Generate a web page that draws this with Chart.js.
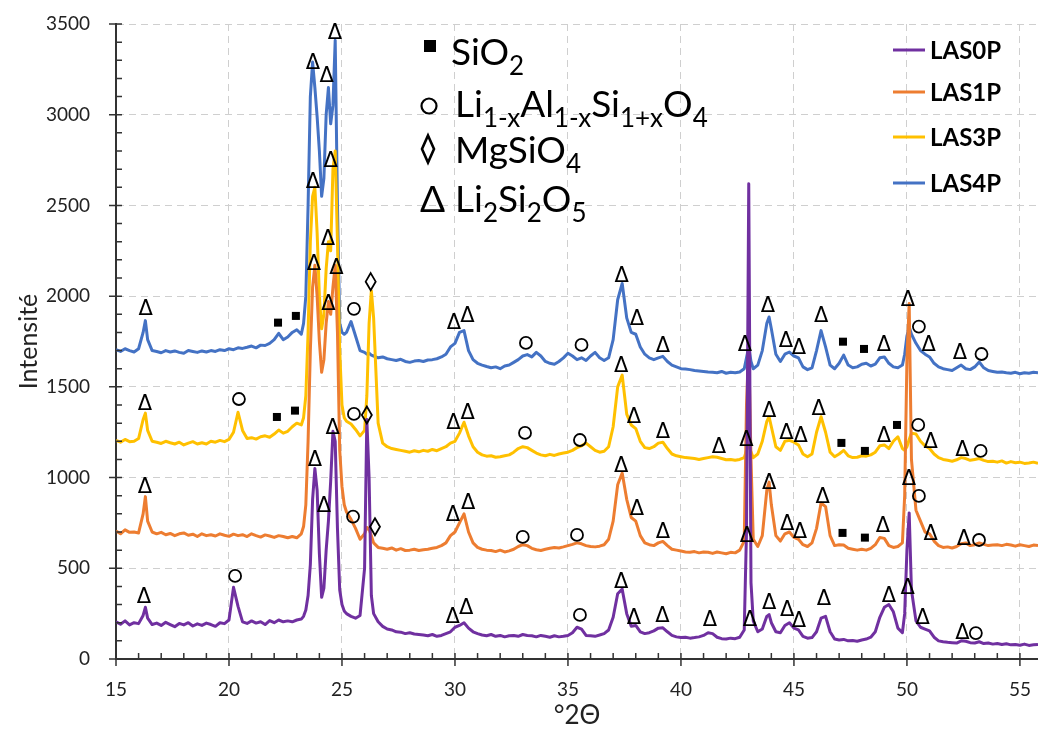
<!DOCTYPE html>
<html>
<head>
<meta charset="utf-8">
<script src="https://cdn.jsdelivr.net/npm/chart.js@4.4.1/dist/chart.umd.min.js"></script>
<style>
  html, body { margin: 0; padding: 0; background: #fff; }
</style>
</head>
<body>
<canvas id="myChart" width="1038" height="729"></canvas>
<script>
// diffraction angle (°2Θ), shared by the four patterns
var twoTheta = [
  15.0, 15.2, 15.4, 15.6, 15.8, 16.0, 16.2, 16.3, 16.4, 16.6,
  16.8, 17.0, 17.2, 17.4, 17.6, 17.8, 18.0, 18.2, 18.4, 18.6,
  18.8, 19.0, 19.2, 19.4, 19.6, 19.8, 20.0, 20.2, 20.4, 20.6,
  20.8, 21.0, 21.2, 21.4, 21.6, 21.8, 22.0, 22.2, 22.4, 22.6,
  22.8, 23.0, 23.2, 23.3, 23.4, 23.5, 23.6, 23.7, 23.8, 23.9,
  24.0, 24.1, 24.2, 24.3, 24.4, 24.5, 24.6, 24.7, 24.8, 24.9,
  25.0, 25.1, 25.2, 25.4, 25.6, 25.8, 26.0, 26.1, 26.2, 26.3,
  26.4, 26.6, 26.8, 27.0, 27.2, 27.4, 27.6, 27.8, 28.0, 28.2,
  28.4, 28.6, 28.8, 29.0, 29.2, 29.4, 29.6, 29.8, 30.0, 30.2,
  30.4, 30.6, 30.8, 31.0, 31.2, 31.4, 31.6, 31.8, 32.0, 32.2,
  32.4, 32.6, 32.8, 33.0, 33.2, 33.4, 33.6, 33.8, 34.0, 34.2,
  34.4, 34.6, 34.8, 35.0, 35.2, 35.4, 35.6, 35.8, 36.0, 36.2,
  36.4, 36.6, 36.8, 37.0, 37.2, 37.4, 37.6, 37.8, 38.0, 38.2,
  38.4, 38.6, 38.8, 39.0, 39.2, 39.4, 39.6, 39.8, 40.0, 40.2,
  40.4, 40.6, 40.8, 41.0, 41.2, 41.4, 41.6, 41.8, 42.0, 42.2,
  42.4, 42.6, 42.8, 42.9, 43.0, 43.1, 43.2, 43.4, 43.6, 43.8,
  43.9, 44.0, 44.2, 44.4, 44.6, 44.8, 45.0, 45.2, 45.4, 45.6,
  45.8, 46.0, 46.2, 46.4, 46.6, 46.8, 47.0, 47.2, 47.4, 47.6,
  47.8, 48.0, 48.2, 48.4, 48.6, 48.8, 49.0, 49.2, 49.4, 49.6,
  49.8, 49.9, 50.0, 50.1, 50.2, 50.4, 50.6, 50.8, 51.0, 51.2,
  51.4, 51.6, 51.8, 52.0, 52.2, 52.4, 52.6, 52.8, 53.0, 53.2,
  53.4, 53.6, 53.8, 54.0, 54.2, 54.4, 54.6, 54.8, 55.0, 55.2,
  55.4, 55.6, 55.8
];

var las0p = [
  205, 192, 210, 188, 200, 195, 240, 285, 225, 190,
  198, 185, 202, 190, 178, 196, 188, 200, 182, 194,
  185, 198, 190, 180, 200, 195, 215, 395, 290, 205,
  196, 210, 198, 205, 190, 212, 200, 215, 205, 210,
  205, 215, 220, 235, 270, 350, 520, 880, 1050, 930,
  580, 340, 390, 600, 760, 980, 1255, 1200, 720, 380,
  300, 265, 250, 235, 225, 240, 500, 1320, 1000, 350,
  250, 205, 180, 165, 160, 150, 148, 140, 145, 138,
  135, 132, 128, 135, 125, 130, 140, 150, 175, 185,
  200, 170, 150, 140, 132, 128, 135, 125, 130, 122,
  128, 130, 125, 135, 130, 128, 122, 130, 125, 120,
  128, 122, 125, 130, 145, 175, 165, 130, 128, 125,
  132, 140, 160, 230, 360, 385, 250, 180, 185, 150,
  140, 145, 155, 170, 172, 150, 130, 122, 118, 120,
  115, 118, 122, 130, 145, 140, 120, 112, 110, 115,
  112, 120, 160, 700, 2620, 420, 210, 150, 165, 235,
  245, 200, 150, 145, 185, 200, 170, 160, 125, 115,
  118, 150, 225, 235, 150, 110, 105, 108, 100, 102,
  98, 105, 110, 120, 150, 230, 285, 300, 260, 170,
  145, 250, 600, 805, 380, 210, 175, 165, 155, 120,
  100, 95, 92, 90, 88, 100, 98, 90, 88, 95,
  85, 88, 82, 85, 80, 84, 78, 80, 76, 82,
  75, 78, 80
];

var las1p = [
  705, 690, 712, 698, 700, 695, 800, 895, 760, 700,
  690, 698, 685, 692, 680, 690, 695, 682, 688, 675,
  690, 680, 685, 678, 690, 682, 676, 688, 680, 685,
  675, 690, 680, 672, 684, 678, 670, 680, 675, 668,
  675, 668, 690, 730, 850, 1200, 1700, 2050, 2170, 2000,
  1750, 1580, 1650, 1850, 1970, 1900, 2050, 2170, 1800, 1150,
  950, 850, 810, 770, 720, 660, 690, 725, 715, 680,
  640, 615, 610, 605, 612, 600, 608, 598, 600, 605,
  598, 602, 605, 610, 615, 625, 640, 680, 700, 750,
  800, 700, 640, 615, 605, 600, 598, 592, 600, 590,
  596, 605, 620, 630, 625, 610, 602, 598, 605, 610,
  615, 612, 618, 625, 632, 640, 635, 625, 620, 618,
  622, 630, 660, 760, 960, 1025, 880, 780, 760, 680,
  640, 630, 625, 640, 648, 625, 605, 600, 595, 590,
  588, 592, 585, 590, 588, 582, 590, 585, 580, 588,
  585, 600, 650, 1400, 1720, 1100, 660, 620, 680, 930,
  975, 850, 680, 650, 690, 700, 670, 660, 630, 620,
  640, 720, 860, 840, 680, 625, 630, 628, 610, 605,
  600, 605, 600, 610, 630, 670, 665, 625, 615, 620,
  640, 900, 1650, 1960, 1100, 820, 760, 700, 690, 650,
  625, 615, 618, 612, 620, 635, 640, 625, 630, 640,
  632, 625, 628, 630, 625, 632, 628, 622, 630, 625,
  620, 628, 625
];

var las3p = [
  1205, 1195, 1210, 1198, 1200, 1215, 1320, 1355, 1260, 1200,
  1195, 1188, 1200, 1192, 1185, 1195, 1180, 1190, 1198, 1185,
  1192, 1185, 1200, 1195, 1205, 1198, 1210, 1250, 1360, 1260,
  1215, 1220, 1212, 1225, 1230, 1222, 1240, 1262, 1245, 1255,
  1280, 1300, 1290, 1330, 1450, 1800, 2300, 2550, 2600, 2350,
  2000, 1820, 1900, 2150, 2300, 2250, 2700, 2800, 2300, 1700,
  1400, 1330, 1310, 1295, 1265, 1230, 1260, 1450, 1850, 2030,
  1880, 1300, 1190, 1170, 1160, 1155, 1150, 1145, 1140, 1148,
  1142, 1150, 1145, 1155, 1148, 1160, 1170, 1190, 1200, 1245,
  1305, 1230, 1170, 1140, 1125, 1118, 1120, 1112, 1115, 1120,
  1125, 1140, 1160, 1170, 1165, 1150, 1135, 1125, 1120, 1128,
  1122, 1130, 1135, 1140, 1150, 1165, 1175, 1190, 1170, 1150,
  1140, 1145, 1170, 1280, 1500, 1565, 1350, 1290, 1270, 1200,
  1165, 1160, 1170, 1190, 1195, 1160, 1130, 1120, 1115, 1110,
  1108, 1105, 1100, 1105, 1110, 1115, 1112, 1105, 1098, 1100,
  1095, 1100, 1110, 1150, 1185, 1140, 1110, 1130, 1200, 1310,
  1335, 1280, 1170, 1150, 1200, 1205, 1195, 1180, 1130, 1115,
  1130, 1250, 1335, 1250, 1140, 1115, 1130, 1150, 1120, 1110,
  1112, 1120, 1118, 1125, 1140, 1175, 1180, 1160, 1200, 1225,
  1160, 1150, 1170, 1210, 1245, 1240, 1200, 1175, 1160, 1130,
  1110, 1100, 1095, 1090, 1098, 1110, 1105, 1095, 1100, 1105,
  1095, 1088, 1090, 1085, 1092, 1080, 1088, 1082, 1085, 1078,
  1080, 1085, 1078
];

var las4p = [
  1705, 1695, 1710, 1700, 1692, 1710, 1800, 1865, 1760, 1700,
  1695, 1688, 1700, 1692, 1698, 1690, 1685, 1700, 1695, 1690,
  1698, 1692, 1700, 1695, 1705, 1700, 1710, 1705, 1715, 1712,
  1718, 1725, 1715, 1730, 1728, 1740, 1760, 1795, 1760, 1775,
  1800, 1815, 1790, 1850, 2000, 2500, 3100, 3290, 3150, 2990,
  2800, 2550, 2650, 3000, 3150, 2950, 3050, 3410, 2500, 1850,
  1800, 1790, 1800, 1860, 1780, 1700, 1690, 1680, 1685, 1675,
  1670, 1660, 1665, 1655, 1650, 1645, 1652, 1640, 1635, 1642,
  1645, 1640, 1648, 1650, 1655, 1665, 1680, 1720, 1740, 1800,
  1810, 1700, 1650, 1630, 1620, 1612, 1605, 1610, 1600, 1615,
  1620, 1635, 1650, 1670, 1678, 1665, 1690, 1670, 1640, 1630,
  1625, 1640, 1660, 1685, 1670, 1650, 1660, 1645, 1670, 1690,
  1660, 1645, 1660, 1760, 1980, 2070, 1880, 1800, 1790, 1720,
  1680, 1660, 1650, 1660, 1668, 1640, 1620, 1610, 1600, 1598,
  1595, 1590, 1588, 1585, 1582, 1580, 1578, 1585, 1575, 1580,
  1578, 1582, 1600, 1660, 1720, 1640, 1600, 1620, 1700, 1850,
  1885, 1820, 1680, 1640, 1680, 1692, 1670, 1660, 1610, 1595,
  1605, 1700, 1810, 1720, 1620, 1600, 1630, 1675, 1620, 1605,
  1610, 1625, 1630, 1615, 1625, 1660, 1665, 1630, 1610, 1605,
  1620, 1680, 1780, 1830, 1790, 1740, 1700, 1680, 1665, 1630,
  1610, 1600, 1595, 1590, 1605, 1620, 1600, 1595, 1610, 1637,
  1605, 1590, 1585, 1580, 1582, 1578, 1575, 1580, 1572, 1578,
  1575, 1580, 1578
];

var seriesNames = ['LAS0P', 'LAS1P', 'LAS3P', 'LAS4P'];
var seriesColors = ['#7030a0', '#ed7d31', '#ffc000', '#4472c4'];

// phase markers [°2Θ, intensity]
var li2si2o5Marks = [
  [16.31, 1935], [23.72, 3291], [24.32, 3220], [24.69, 3460], [29.95, 1862], [30.55, 1897],
  [37.38, 2117], [38.05, 1880], [39.2, 1735], [42.83, 1740], [43.85, 1952], [44.65, 1764],
  [45.22, 1722], [46.2, 1897], [48.98, 1737], [50.04, 1985], [50.96, 1737], [52.35, 1694],
  [16.28, 1413], [23.72, 2635], [24.5, 2751], [24.38, 2326], [29.93, 1308], [30.56, 1363],
  [37.35, 1621], [37.92, 1345], [39.2, 1262], [41.68, 1175], [42.9, 1218], [43.9, 1373],
  [44.67, 1253], [45.3, 1240], [46.1, 1384], [48.98, 1235], [51.05, 1203], [52.46, 1158],
  [16.28, 959], [23.76, 2188], [24.4, 1963], [24.76, 2165], [29.91, 805], [30.58, 866],
  [37.35, 1070], [38.05, 838], [39.2, 711], [42.92, 688], [43.9, 981], [44.7, 750],
  [45.27, 706], [46.27, 899], [48.94, 739], [50.09, 998], [51.05, 696], [52.52, 672],
  [16.24, 353], [23.8, 1108], [24.2, 854], [24.59, 1281], [29.9, 238], [30.5, 292],
  [37.35, 435], [37.92, 232], [39.18, 243], [41.28, 226], [43.05, 226], [43.9, 316],
  [44.7, 281], [45.22, 220], [46.33, 338], [49.2, 358], [50.03, 399], [50.7, 237],
  [52.46, 151]
];
var lialsio4Marks = [
  [25.53, 1930], [33.14, 1742], [35.6, 1731], [50.53, 1832], [53.3, 1681],
  [20.44, 1433], [25.53, 1351], [33.1, 1246], [35.53, 1207], [50.5, 1290], [53.26, 1147],
  [25.49, 785], [33.0, 673], [35.4, 684], [50.53, 899], [53.19, 656],
  [20.27, 458], [35.53, 243], [53.05, 143]
];
var sio2Marks = [
  [22.17, 1854], [22.96, 1891], [47.17, 1749], [48.1, 1709],
  [22.12, 1334], [22.92, 1369], [47.1, 1191], [48.14, 1147], [49.56, 1290],
  [47.15, 695], [48.14, 669]
];
var mgsio4Marks = [[26.27, 2080], [26.1, 1345], [26.46, 729]];

var FONT = 'Lato, "Open Sans", sans-serif';

function drawTri(ctx, x, y, size) {
  ctx.font = size + 'px "DejaVu Sans"';
  ctx.textAlign = 'center';
  ctx.textBaseline = 'alphabetic';
  ctx.fillText('\u0394', x, y + size * 0.36);
}
function drawCircle(ctx, x, y, r) {
  ctx.beginPath();
  ctx.arc(x, y, r, 0, Math.PI * 2);
  ctx.stroke();
}
function drawDiamond(ctx, x, y, w, h) {
  ctx.beginPath();
  ctx.moveTo(x, y - h / 2);
  ctx.lineTo(x + w / 2, y);
  ctx.lineTo(x, y + h / 2);
  ctx.lineTo(x - w / 2, y);
  ctx.closePath();
  ctx.stroke();
}

var phaseMarks = {
  id: 'phaseMarks',
  afterDatasetsDraw: function (chart) {
    var ctx = chart.ctx, xs = chart.scales.x, ys = chart.scales.y;
    var px = function (p) { return [xs.getPixelForValue(p[0]), ys.getPixelForValue(p[1])]; };
    ctx.save();
    ctx.fillStyle = '#000';
    ctx.strokeStyle = '#000';
    ctx.lineWidth = 1.8;
    li2si2o5Marks.forEach(function (p) { var q = px(p); drawTri(ctx, q[0], q[1], 21); });
    lialsio4Marks.forEach(function (p) { var q = px(p); drawCircle(ctx, q[0], q[1], 6); });
    sio2Marks.forEach(function (p) { var q = px(p); ctx.fillRect(q[0] - 4, q[1] - 4, 8, 8); });
    mgsio4Marks.forEach(function (p) { var q = px(p); drawDiamond(ctx, q[0], q[1], 10, 17); });
    ctx.restore();
  }
};

var axisTicks = {
  id: 'axisTicks',
  afterDraw: function (chart) {
    var ctx = chart.ctx, xs = chart.scales.x, ys = chart.scales.y, a = chart.chartArea;
    ctx.save();
    ctx.strokeStyle = '#333';
    ctx.lineWidth = 1.5;
    ctx.beginPath();
    for (var v = 15; v <= 55; v++) {
      var x = xs.getPixelForValue(v);
      ctx.moveTo(x, a.bottom - 6);
      ctx.lineTo(x, a.bottom + (v % 5 === 0 ? 7 : 0));
    }
    for (var w = 0; w <= 3500; w += 100) {
      var y = ys.getPixelForValue(w);
      ctx.moveTo(a.left - (w % 500 === 0 ? 7 : 0), y);
      ctx.lineTo(a.left + 6, y);
    }
    ctx.stroke();
    ctx.restore();
  }
};

function drawRich(ctx, x, y, parts, size) {
  parts.forEach(function (p) {
    var sub = p[1];
    ctx.font = (sub ? Math.round(size * 0.7) : size) + 'px ' + FONT;
    ctx.fillText(p[0], x, sub ? y + size * 0.28 : y);
    x += ctx.measureText(p[0]).width;
  });
}

var legends = {
  id: 'legends',
  afterDraw: function (chart) {
    var ctx = chart.ctx;
    ctx.save();
    // series legend
    ctx.textAlign = 'left';
    ctx.textBaseline = 'middle';
    ctx.font = 'bold 24px ' + FONT;
    var rows = [50, 92, 137, 183];
    seriesNames.forEach(function (n, i) {
      ctx.strokeStyle = seriesColors[i];
      ctx.lineWidth = 3;
      ctx.beginPath();
      ctx.moveTo(893, rows[i]);
      ctx.lineTo(925, rows[i]);
      ctx.stroke();
      ctx.fillStyle = '#000';
      ctx.fillText(n, 930, rows[i] + 1);
    });
    // phase legend
    ctx.textBaseline = 'alphabetic';
    ctx.fillStyle = '#000';
    ctx.strokeStyle = '#000';
    var size = 37;
    ctx.fillRect(424, 40, 12, 12);
    drawRich(ctx, 451, 65, [['SiO', 0], ['2', 1]], size);
    ctx.lineWidth = 2.2;
    drawCircle(ctx, 429, 106, 7.5);
    drawRich(ctx, 455, 117, [['Li', 0], ['1-x', 1], ['Al', 0], ['1-x', 1], ['Si', 0], ['1+x', 1], ['O', 0], ['4', 1]], size);
    ctx.lineWidth = 2.6;
    drawDiamond(ctx, 428, 149, 12, 27);
    drawRich(ctx, 455, 163, [['MgSiO', 0], ['4', 1]], size);
    drawRich(ctx, 420, 212, [['\u0394', 0]], size);
    drawRich(ctx, 455, 212, [['Li', 0], ['2', 1], ['Si', 0], ['2', 1], ['O', 0], ['5', 1]], size);
    ctx.restore();
  }
};

var series = [las0p, las1p, las3p, las4p];
var ctx = document.getElementById('myChart').getContext('2d');
var myChart = new Chart(ctx, {
  type: 'line',
  data: {
    datasets: series.map(function (vals, i) {
      return {
        label: seriesNames[i],
        data: twoTheta.map(function (t, j) { return { x: t, y: vals[j] }; }),
        borderColor: seriesColors[i],
        backgroundColor: seriesColors[i],
        borderWidth: 3,
        borderJoinStyle: 'round',
        pointRadius: 0,
        tension: 0,
        fill: false
      };
    })
  },
  options: {
    responsive: false,
    animation: false,
    layout: { padding: { top: 24, right: 0, bottom: 0, left: 0 } },
    plugins: {
      legend: { display: false },
      tooltip: { enabled: false }
    },
    scales: {
      x: {
        type: 'linear',
        min: 15,
        max: 55.8,
        ticks: {
          stepSize: 5,
          includeBounds: false,
          maxRotation: 0,
          padding: 19,
          color: '#222',
          font: { family: FONT, size: 19 },
          callback: function (v) { return String(v); }
        },
        grid: { color: '#cfcfcf', lineWidth: 1, drawTicks: false },
        border: { color: '#333', width: 2, dash: [7, 5] },
        title: {
          display: true,
          text: '°2Θ',
          color: '#222',
          font: { family: FONT, size: 26, lineHeight: 1 },
          padding: { top: -2, bottom: 0 }
        },
        afterFit: function (s) { s.height = 70; s.paddingLeft = 0; s.paddingRight = 0; }
      },
      y: {
        min: 0,
        max: 3500,
        ticks: {
          stepSize: 500,
          padding: 26,
          color: '#222',
          font: { family: FONT, size: 19 },
          callback: function (v) { return String(v); }
        },
        grid: { color: '#cfcfcf', lineWidth: 1, drawTicks: false },
        border: { color: '#333', width: 2, dash: [7, 5] },
        title: {
          display: true,
          text: 'Intensité',
          color: '#222',
          font: { family: FONT, size: 25 },
          padding: { top: 14, bottom: 0 }
        },
        afterFit: function (s) { s.width = 116; s.paddingTop = 0; s.paddingBottom = 0; }
      }
    }
  },
  plugins: [axisTicks, phaseMarks, legends]
});
</script>
</body>
</html>
